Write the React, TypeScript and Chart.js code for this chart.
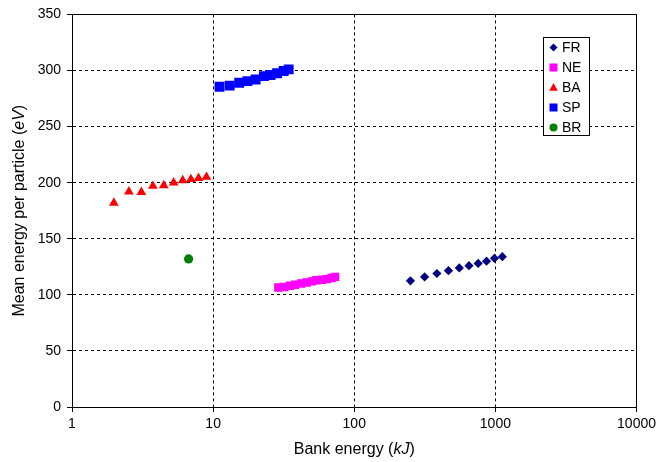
import React, { useEffect, useRef } from "react";
import { Chart, registerables } from "chart.js";

Chart.register(...registerables);

// ---- Data ----
const SERIES_LABELS = ["FR", "NE", "BA", "SP", "BR"];

const FR_ENERGY = [250, 315, 385, 465, 555, 650, 755, 865, 985, 1120];
const FR_MEAN = [112.5, 116, 119, 121.5, 124, 126, 128, 130, 132.5, 134];

const NE_ENERGY = [29, 32, 35, 38, 42, 46, 50, 54, 59, 64, 69, 73];
const NE_MEAN = [106.5, 107, 108, 109, 110, 111, 112, 113, 113.5, 114, 115, 116];

const BA_ENERGY = [1.98, 2.53, 3.1, 3.74, 4.47, 5.25, 6.08, 6.96, 7.88, 8.97];
const BA_MEAN = [182, 192, 191.5, 197, 197.5, 200, 202, 203, 204, 205];

const SP_ENERGY = [11.1, 13.1, 15.3, 17.5, 20, 22.9, 25.5, 28.4, 31.6, 34.3];
const SP_MEAN = [285.5, 286.5, 289, 290.5, 292, 295, 296, 297.5, 299.5, 301];

const BR_ENERGY = [6.7];
const BR_MEAN = [132];

const X_TICKS = [1, 10, 100, 1000, 10000];
const Y_MIN = 0;
const Y_MAX = 350;
const Y_STEP = 50;

const X_TITLE = ["Bank energy (", "kJ", ")"];
const Y_TITLE = ["Mean energy per particle (", "eV", ")"];

const COLORS = ["#000080", "#FF00FF", "#FF0000", "#0000FF", "#008000"];
const STYLES = ["rectRot", "rect", "triangle", "rect", "circle"];
const RADII = [4.6, 6, 5.6, 7, 4.6];

const FONT = "Arial, 'Liberation Sans', Helvetica, sans-serif";

const toPoints = (xs: number[], ys: number[]) => xs.map((x, i) => ({ x, y: ys[i] }));

function drawMixed(ctx: CanvasRenderingContext2D, parts: string[], size: number) {
  const reg = `${size}px ${FONT}`;
  const ita = `italic ${size}px ${FONT}`;
  const fonts = [reg, ita, reg];
  const widths = parts.map((p, i) => {
    ctx.font = fonts[i];
    return ctx.measureText(p).width;
  });
  const total = widths.reduce((a, b) => a + b, 0);
  let x = -total / 2;
  parts.forEach((p, i) => {
    ctx.font = fonts[i];
    ctx.fillText(p, x, 0);
    x += widths[i];
  });
}

function drawMarker(ctx: CanvasRenderingContext2D, style: string, x: number, y: number, r: number) {
  ctx.beginPath();
  if (style === "rectRot") {
    ctx.moveTo(x, y - r);
    ctx.lineTo(x + r, y);
    ctx.lineTo(x, y + r);
    ctx.lineTo(x - r, y);
    ctx.closePath();
  } else if (style === "rect") {
    ctx.rect(x - r, y - r, 2 * r, 2 * r);
  } else if (style === "triangle") {
    ctx.moveTo(x, y - r);
    ctx.lineTo(x + r * 0.95, y + r * 0.7);
    ctx.lineTo(x - r * 0.95, y + r * 0.7);
    ctx.closePath();
  } else {
    ctx.arc(x, y, r, 0, Math.PI * 2);
  }
  ctx.fill();
}

const decorPlugin = {
  id: "decor",
  afterDraw(chart: any) {
    const { ctx, chartArea } = chart;
    const { left, right, top, bottom } = chartArea;
    ctx.save();
    // plot frame (top & right)
    ctx.strokeStyle = "#000";
    ctx.lineWidth = 1;
    ctx.setLineDash([]);
    const L = Math.round(left - 0.5) + 0.5;
    const R = Math.round(right - 0.5) + 0.5;
    const T = Math.round(top - 0.5) + 0.5;
    const B = Math.round(bottom - 0.5) + 0.5;
    ctx.beginPath();
    ctx.moveTo(L, T);
    ctx.lineTo(R, T);
    ctx.lineTo(R, B);
    ctx.stroke();

    // axis titles
    ctx.fillStyle = "#000";
    ctx.textBaseline = "middle";
    ctx.textAlign = "left";
    ctx.save();
    ctx.translate((left + right) / 2, 450);
    drawMixed(ctx, X_TITLE, 16);
    ctx.restore();
    ctx.save();
    ctx.translate(20, (top + bottom) / 2);
    ctx.rotate(-Math.PI / 2);
    drawMixed(ctx, Y_TITLE, 16);
    ctx.restore();

    // legend
    const bx = 543.5, by = 37.5, bw = 46, bh = 98;
    ctx.fillStyle = "#fff";
    ctx.fillRect(bx, by, bw, bh);
    ctx.strokeStyle = "#000";
    ctx.strokeRect(bx, by, bw, bh);
    ctx.font = `14px ${FONT}`;
    ctx.textBaseline = "middle";
    const legendR = [4, 4, 4.5, 4, 4];
    SERIES_LABELS.forEach((lab, i) => {
      const cy = 47.5 + i * 20;
      ctx.fillStyle = COLORS[i];
      drawMarker(ctx, STYLES[i], 553.5, cy, legendR[i]);
      ctx.fillStyle = "#000";
      ctx.fillText(lab, 562, cy + 0.5);
    });
    ctx.restore();
  },
};

function App() {
  const ref = useRef<HTMLCanvasElement | null>(null);

  useEffect(() => {
    if (!ref.current) return;
    const seriesData = [
      toPoints(FR_ENERGY, FR_MEAN),
      toPoints(NE_ENERGY, NE_MEAN),
      toPoints(BA_ENERGY, BA_MEAN),
      toPoints(SP_ENERGY, SP_MEAN),
      toPoints(BR_ENERGY, BR_MEAN),
    ];
    const chart = new Chart(ref.current, {
      type: "scatter",
      data: {
        datasets: SERIES_LABELS.map((label, i) => ({
          label,
          data: seriesData[i],
          pointStyle: STYLES[i] as any,
          pointRadius: RADII[i],
          pointHoverRadius: RADII[i],
          backgroundColor: COLORS[i],
          borderColor: COLORS[i],
          pointBorderWidth: 0,
          showLine: false,
        })),
      },
      options: {
        animation: false,
        responsive: false,
        maintainAspectRatio: false,
        layout: { padding: { top: 12, right: 21, left: 0, bottom: 0 } },
        plugins: {
          legend: { display: false },
          tooltip: { enabled: false },
          title: { display: false },
        },
        scales: {
          x: {
            type: "logarithmic",
            min: 1,
            max: 10000,
            afterBuildTicks: (scale: any) => {
              scale.ticks = X_TICKS.map((v) => ({ value: v }));
            },
            afterFit: (scale: any) => {
              scale.height = 55;
            },
            ticks: {
              color: "#000",
              font: { family: FONT, size: 14 },
              padding: 4,
              maxRotation: 0,
              autoSkip: false,
              callback: (v: any) => String(v),
            },
            grid: {
              color: "#000",
              lineWidth: 1,
              tickLength: 5,
              tickColor: "#000",
            },
            border: { display: true, color: "#000", width: 1, dash: [3, 3] },
          },
          y: {
            type: "linear",
            min: Y_MIN,
            max: Y_MAX,
            afterFit: (scale: any) => {
              scale.width = 72;
            },
            ticks: {
              stepSize: Y_STEP,
              color: "#000",
              font: { family: FONT, size: 14 },
              padding: 6,
            },
            grid: {
              color: "#000",
              lineWidth: 1,
              tickLength: 5,
              tickColor: "#000",
            },
            border: { display: true, color: "#000", width: 1, dash: [3, 3] },
          },
        },
      },
      plugins: [decorPlugin],
    });
    return () => chart.destroy();
  }, []);

  return (
    <div style={{ position: "absolute", left: 0, top: 0, width: 660, height: 462, background: "#fff" }}>
      <canvas ref={ref} width={660} height={462} style={{ width: 660, height: 462, display: "block" }} />
    </div>
  );
}

export default App;
